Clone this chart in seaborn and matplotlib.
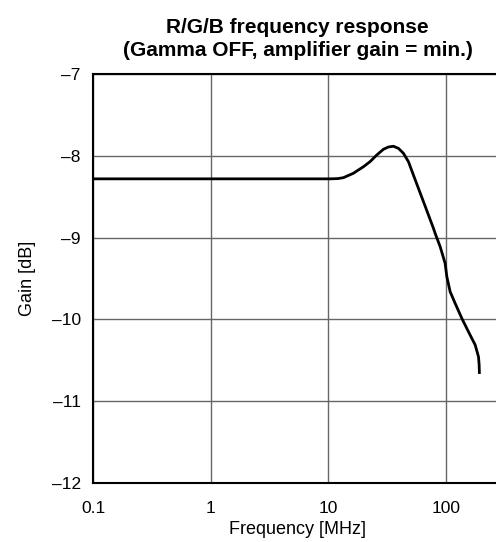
import pandas as pd
import seaborn as sns
import matplotlib.pyplot as plt

# values
freq_mhz = [0.1, 1, 10.3, 12, 13.4, 16.3, 19.9, 22.6, 25.8, 29.4, 32.4, 35.7, 39.4, 43.5,
            48.0, 52.9, 58.3, 64.4, 71.0, 78.3, 80.9, 89.3, 98.4, 101.8, 108.6, 119.7,
            136.5, 155.4, 177.4, 189.2, 191.6, 192.8]
gain_db = [-8.28, -8.28, -8.28, -8.277, -8.266, -8.212, -8.131, -8.070, -7.988, -7.918, -7.890, -7.881,
           -7.906, -7.967, -8.070, -8.233, -8.395, -8.559, -8.722, -8.885, -8.946, -9.110, -9.313,
           -9.477, -9.661, -9.803, -9.987, -10.151, -10.313, -10.457, -10.55, -10.668]
x_ticks = [0.1, 1, 10, 100]
x_ticklabels = ['0.1', '1', '10', '100']
y_ticks = [-12, -11, -10, -9, -8, -7]

df = pd.DataFrame({'Frequency': freq_mhz, 'Gain': gain_db})

sns.set_style('white')
plt.rcParams['font.family'] = ['Liberation Sans', 'DejaVu Sans']
plt.rcParams['text.color'] = 'black'
plt.rcParams['axes.labelcolor'] = 'black'
plt.rcParams['xtick.color'] = 'black'
plt.rcParams['ytick.color'] = 'black'

fig = plt.figure(figsize=(4.96, 5.42), dpi=100)
ax = fig.add_axes([93.3 / 496, 1 - 482.7 / 542, (502 - 93.3) / 496, (482.7 - 74.3) / 542])

sns.lineplot(data=df, x='Frequency', y='Gain', ax=ax, color='black', linewidth=2,
             estimator=None, sort=False, solid_joinstyle='round', solid_capstyle='butt')

ax.set_xscale('log')
ax.set_xlim(0.1, 300)
ax.set_ylim(-12, -7)
ax.set_xticks(x_ticks)
ax.set_xticklabels(x_ticklabels)
ax.minorticks_off()
ax.set_yticks(y_ticks)
ax.set_yticklabels([str(v).replace('-', '\u2013') for v in y_ticks])
ax.tick_params(axis='x', length=0, pad=13, labelsize=12.5, labelcolor='black')
ax.tick_params(axis='y', length=0, pad=9, labelsize=12.5, labelcolor='black')

ax.grid(True, color='#666666', linewidth=1)
for side in ['left', 'bottom', 'top']:
    ax.spines[side].set_color('black')
    ax.spines[side].set_linewidth(1.5)
ax.spines['right'].set_visible(False)

ax.set_xlabel('Frequency [MHz]', fontsize=13, labelpad=4, color='black')
ax.set_ylabel('Gain [dB]', fontsize=13, labelpad=11, color='black')
ax.set_title('R/G/B frequency response\n(Gamma OFF, amplifier gain = min.)',
             fontsize=15, fontweight='bold', pad=13, linespacing=1.3, color='black')

fig.savefig('out.png', dpi=100)
